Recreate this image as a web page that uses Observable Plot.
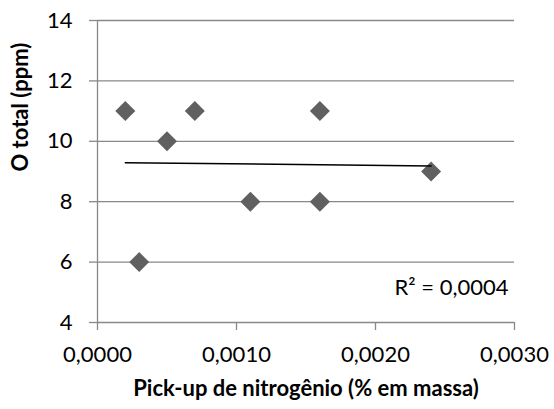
<!DOCTYPE html>
<html>
<head>
<meta charset="utf-8">
<script src="https://cdn.jsdelivr.net/npm/d3@7"></script>
<script src="https://cdn.jsdelivr.net/npm/@observablehq/plot@0.6"></script>
<style>
  html, body { margin: 0; padding: 0; background: #fff; }
  #chart svg { display: block; }
</style>
</head>
<body>
<div id="chart"></div>
<script>
// Nitrogen pick-up (% by mass) against total oxygen (ppm)
const pickup = [0.0002, 0.0003, 0.0005, 0.0007, 0.0011, 0.0016, 0.0016, 0.0024];
const oxygen = [11, 6, 10, 11, 8, 11, 8, 9];
const xTicks = [0, 0.001, 0.002, 0.003];
const yTicks = [4, 6, 8, 10, 12, 14];

const data = pickup.map((x, i) => ({x, y: oxygen[i]}));

// Coefficient of determination of the least-squares line
const mx = d3.mean(pickup), my = d3.mean(oxygen);
const sxy = d3.sum(data, d => (d.x - mx) * (d.y - my));
const sxx = d3.sum(data, d => (d.x - mx) ** 2);
const syy = d3.sum(data, d => (d.y - my) ** 2);
const r2 = (sxy * sxy) / (sxx * syy);
const r2Label = "R² = " + r2.toFixed(4).replace(".", ",");

const fmtX = d => d.toFixed(4).replace(".", ",");
const grey = "#898989";
const ink = "#000";
const font = "Lato, 'Open Sans', sans-serif";

const chart = Plot.plot({
  width: 554,
  height: 409,
  marginLeft: 97,
  marginRight: 40,
  marginTop: 20,
  marginBottom: 87,
  style: {fontFamily: font, fontSize: "22px", color: ink, background: "#fff"},
  x: {domain: [0, 0.003]},
  y: {domain: [4, 14]},
  marks: [
    Plot.gridY(yTicks, {stroke: grey, strokeOpacity: 1, strokeWidth: 1.3}),
    Plot.ruleX([0], {stroke: grey, strokeWidth: 1.3}),
    Plot.axisY(yTicks, {tickSize: 8, tickPadding: 17, stroke: grey, strokeWidth: 1.3, label: null, fill: ink}),
    Plot.axisX(xTicks, {tickSize: 8, tickPadding: 16, stroke: grey, strokeWidth: 1.3, tickFormat: fmtX, label: null, fill: ink}),
    Plot.dot(data, {x: "x", y: "y", symbol: "diamond2", r: 9, fill: "#606060", stroke: "none"}),
    Plot.linearRegressionY(data, {x: "x", y: "y", ci: 0, stroke: "#000", strokeWidth: 1.5}),
    Plot.text([r2Label], {frameAnchor: "bottom-right", dx: -6, dy: -28, textAnchor: "end", fontSize: 22, fill: ink}),
    Plot.text(["Pick-up de nitrogênio (% em massa)"], {frameAnchor: "bottom", dy: 73, fontSize: 22, fontWeight: "bold", fill: ink}),
    Plot.text(["O total (ppm)"], {frameAnchor: "left", dx: -77, rotate: -90, fontSize: 22, fontWeight: "bold", fill: ink})
  ]
});

document.getElementById("chart").appendChild(chart);
</script>
</body>
</html>
